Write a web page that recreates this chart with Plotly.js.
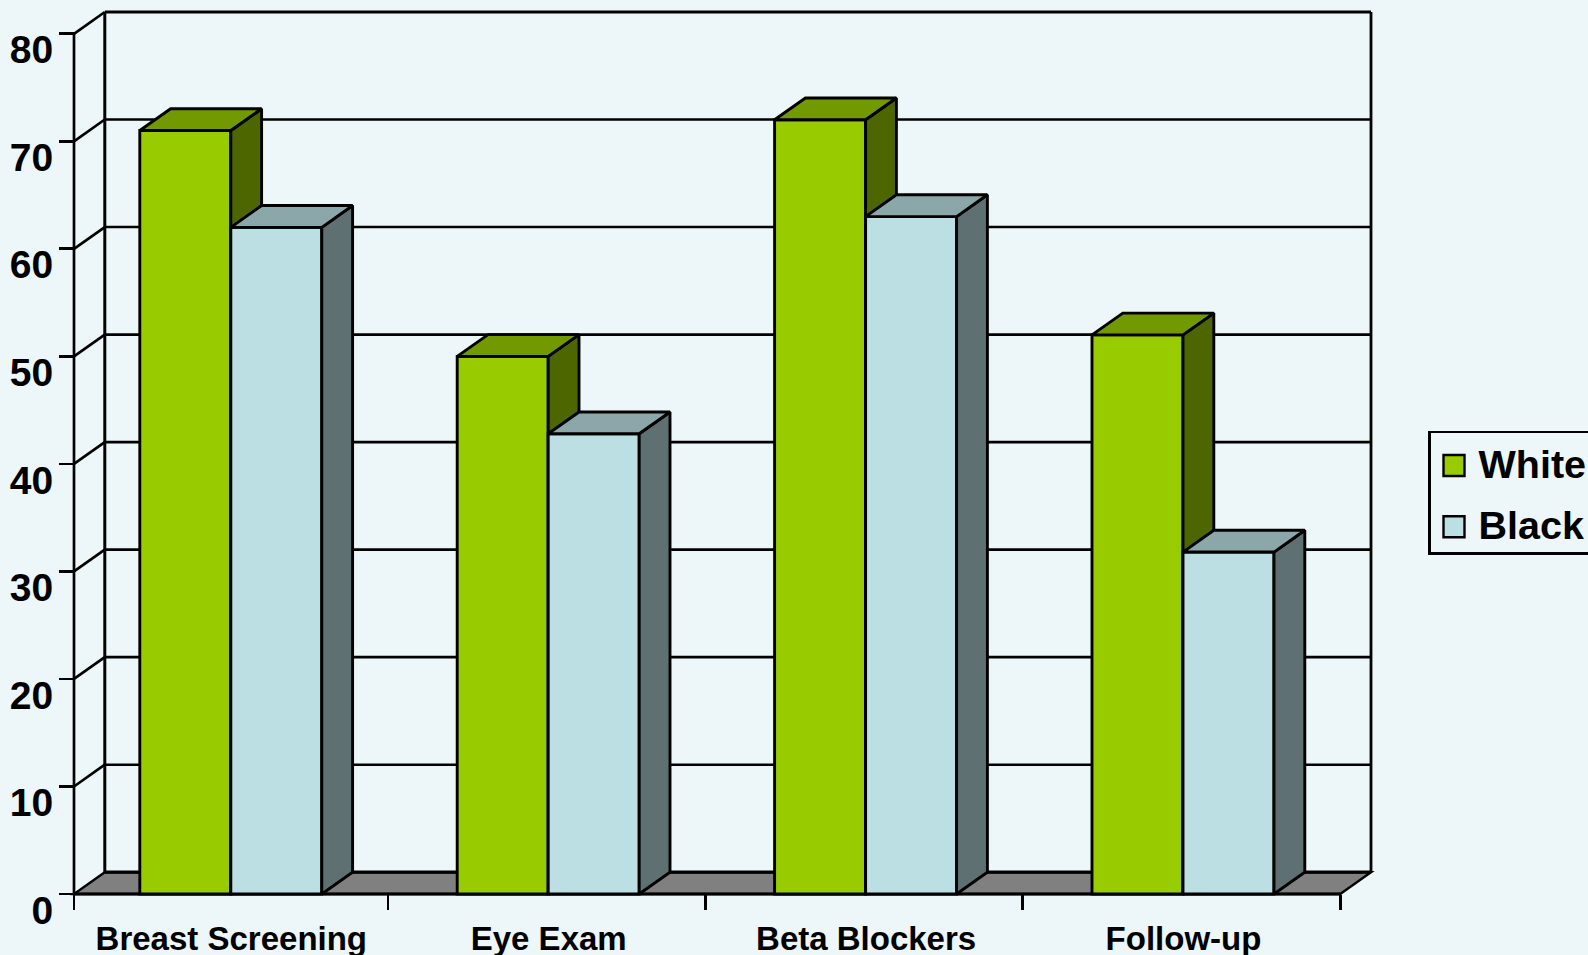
<!DOCTYPE html>
<html>
<head>
<meta charset="utf-8">
<script src="https://cdn.plot.ly/plotly-3.0.1.min.js"></script>
<style>
  html, body { margin: 0; padding: 0; background: #EDF6F8; overflow: hidden; width: 1588px; height: 955px; }
  #chart { width: 1620px; height: 955px; }
</style>
</head>
<body>
<div id="chart"></div>
<script>
// Screening and treatment rates by race, drawn as extruded columns
const categories = ['Breast Screening', 'Eye Exam', 'Beta Blockers', 'Follow-up'];
const whiteValues = [71, 50, 72, 52];
const blackValues = [62, 42.8, 63, 31.8];
const yTicks = [0, 10, 20, 30, 40, 50, 60, 70, 80];

const BG = '#EDF6F8', INK = '#000000', FONT = '"Liberation Sans", Arial, sans-serif';
const WHITE_FACE = '#99CC00', WHITE_TOP = '#739900', WHITE_SIDE = '#4D6600';
const BLACK_FACE = '#BBDFE3', BLACK_TOP = '#8CA7AA', BLACK_SIDE = '#5E7072';
const EDGE = 2.9;

// Pixel frame of the front of the box; the first band is slightly narrower than the rest
const pxLeft = 74, pxBase = 894.5, px80 = 33.5, pad = 4;
const pxPerCat = 317.4, pxFirstEdge = 388;
const pxDepthX = 30.8, pxDepthY = 21.8;
const pxPerUnit = (pxBase - px80) / 80;
const dx = pxDepthX / pxPerCat, dy = pxDepthY / pxPerUnit;

const xStart = 0.5 - (pxFirstEdge - pxLeft) / pxPerCat, xEnd = categories.length - 0.5;
const pxRight = pxLeft + (xEnd - xStart) * pxPerCat;
const barW = 91 / pxPerCat, barShift = 1.5 / pxPerCat;

const plotL = pxLeft - pad, plotR = pxRight + pxDepthX + pad;
const plotT = 12 - pad, plotB = pxBase + pad;
const xRange = [xStart - pad / pxPerCat, xEnd + dx + pad / pxPerCat];
const yRange = [-pad / pxPerUnit, 80 + dy + pad / pxPerUnit];
const positions = categories.map((_, i) => i);

// Top and side faces of one series, as null-separated polygons
function depthFaces(values, offset) {
  const top = { x: [], y: [] }, side = { x: [], y: [] };
  values.forEach((v, i) => {
    const l = i + offset, r = l + barW;
    top.x.push(l, r, r + dx, l + dx, l, null);
    top.y.push(v, v, v + dy, v + dy, v, null);
    side.x.push(r, r + dx, r + dx, r, r, null);
    side.y.push(0, dy, v + dy, v, 0, null);
  });
  return { top, side };
}

function seriesTraces(name, values, offset, face, topCol, sideCol, xa, ya) {
  const { top, side } = depthFaces(values, offset);
  const poly = (p, col) => ({
    type: 'scatter', mode: 'lines', x: p.x, y: p.y, xaxis: xa, yaxis: ya,
    fill: 'toself', fillcolor: col, line: { color: INK, width: EDGE },
    showlegend: false, hoverinfo: 'skip'
  });
  return [
    {
      type: 'bar', name, x: positions, y: values, xaxis: xa, yaxis: ya,
      width: barW, offset, legendgroup: name,
      marker: { color: face, line: { color: INK, width: EDGE } }
    },
    poly(side, sideCol),
    poly(top, topCol)
  ];
}

const traces = [
  ...seriesTraces('White', whiteValues, barShift - barW, WHITE_FACE, WHITE_TOP, WHITE_SIDE, 'x', 'y'),
  ...seriesTraces('Black', blackValues, barShift, BLACK_FACE, BLACK_TOP, BLACK_SIDE, 'x2', 'y2')
];

// Box drawn behind the columns: floor, back wall, gridlines and front axes
const seg = (x0, y0, x1, y1, width) => ({
  type: 'line', layer: 'below', xref: 'x', yref: 'y', x0, y0, x1, y1,
  line: { color: INK, width }
});
const shapes = [
  {
    type: 'path', layer: 'below', xref: 'x', yref: 'y',
    path: `M ${xStart} 0 L ${xEnd} 0 L ${xEnd + dx} ${dy} L ${xStart + dx} ${dy} Z`,
    fillcolor: '#808080', line: { color: INK, width: 2.4 }
  },
  seg(xStart + dx, dy, xEnd + dx, dy, 3.2),
  seg(xStart + dx, dy, xStart + dx, 80 + dy, 3),
  seg(xEnd + dx, dy, xEnd + dx, 80 + dy, 2.8),
  seg(xStart + dx, 80 + dy, xEnd + dx, 80 + dy, 3),
  seg(xStart, 0, xStart, 80, 2.7),
  seg(xStart, 0, xEnd, 0, 3)
];
yTicks.filter(v => v > 0).forEach(v => {
  shapes.push(seg(xStart, v, xStart + dx, v + dy, 2.7));
  if (v < 80) shapes.push(seg(xStart + dx, v + dy, xEnd + dx, v + dy, 2.6));
});

const legendTop = 428;
const layout = {
  width: 1620, height: 955,
  paper_bgcolor: BG, plot_bgcolor: BG,
  margin: { l: plotL, r: 1620 - plotR, t: plotT, b: 955 - plotB, autoexpand: false },
  font: { family: FONT, color: INK },
  xaxis: {
    range: xRange, anchor: 'free', position: pad / (plotB - plotT),
    showgrid: false, zeroline: false, showline: false,
    tickmode: 'array', tickvals: positions, ticktext: categories, ticks: '',
    ticklabelstandoff: 22, ticklabelshift: 2,
    tickfont: { family: FONT, size: 33, color: INK, weight: 700 },
    minor: {
      tickmode: 'array',
      tickvals: [xStart, 0.5, 1.5, 2.5, 3.5],
      ticks: 'outside', ticklen: 15, tickwidth: 2.7, tickcolor: INK, showgrid: false
    }
  },
  yaxis: {
    range: yRange, anchor: 'free', position: pad / (plotR - plotL),
    showgrid: false, zeroline: false, showline: false,
    tickmode: 'array', tickvals: yTicks, ticks: 'outside', ticklen: 15, tickwidth: 2.7, tickcolor: INK,
    ticklabelshift: 16, ticklabelstandoff: -2,
    tickfont: { family: FONT, size: 39, color: INK, weight: 700 }
  },
  xaxis2: { range: xRange, overlaying: 'x', anchor: 'y2', visible: false },
  yaxis2: { range: yRange, overlaying: 'y', anchor: 'x2', visible: false },
  showlegend: true,
  legend: {
    x: (1428 - plotL) / (plotR - plotL), xanchor: 'left',
    y: (plotB - legendTop) / (plotB - plotT), yanchor: 'top',
    bgcolor: BG, bordercolor: INK, borderwidth: 2.5,
    font: { family: FONT, size: 39.5, color: INK, weight: 700 },
    itemwidth: 38, tracegroupgap: 7, traceorder: 'grouped'
  },
  shapes
};

Plotly.newPlot('chart', traces, layout, { staticPlot: true, displayModeBar: false }).then(gd => {
  // Enlarge the legend swatches to the size of the legend lettering
  gd.querySelectorAll('.legendpoints path').forEach(p => {
    const base = p.getAttribute('transform') || '';
    p.setAttribute('transform', 'translate(-0.5,3) ' + base + ' scale(1.75)');
    p.style.strokeWidth = (2.4 / 1.75) + 'px';
  });
  // Tighten the legend frame around its two rows
  const frame = gd.querySelector('.legend .bg');
  if (frame) {
    frame.setAttribute('y', (parseFloat(frame.getAttribute('y')) || 0) + 3);
    frame.setAttribute('height', 121.5);
  }
});
</script>
</body>
</html>
